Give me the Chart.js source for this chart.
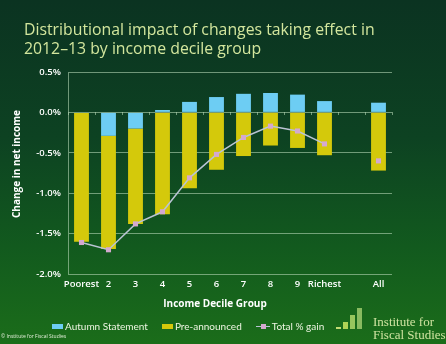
<!DOCTYPE html>
<html>
<head>
<meta charset="utf-8">
<script src="https://cdn.jsdelivr.net/npm/chart.js@4.4.1/dist/chart.umd.min.js"></script>
<style>
  html, body { margin: 0; padding: 0; }
  body {
    position: relative;
    width: 446px;
    height: 344px;
    overflow: hidden;
    background: linear-gradient(to bottom, #0b3321 0%, #0d4222 40%, #125a1e 72%, #1b6d1a 100%);
    font-family: "Open Sans", sans-serif;
  }
  #chart { position: absolute; left: 0; top: 0; }
  .title {
    position: absolute; left: 24px; top: 20px;
    color: #d3e69d; font-size: 15.8px; line-height: 19px; white-space: nowrap;
  }
  .axis-title {
    position: absolute; color: #ffffff; font-weight: 700; font-size: 10px;
    line-height: 12px; text-align: center; white-space: nowrap;
  }
  #y-title { left: -44px; top: 158px; width: 120px; transform: rotate(-90deg); }
  #x-title { left: 155px; top: 297px; width: 120px; }
  #legend {
    position: absolute; left: 52px; top: 319px; height: 14px;
    display: flex; align-items: center; color: #eef6e2;
    font-family: Lato, sans-serif; font-size: 10px;
  }
  .item { display: flex; align-items: center; margin-right: 14px; white-space: nowrap; }
  .swatch { width: 11px; height: 5px; margin-right: 2px; }
  .line-key { position: relative; width: 14px; height: 5px; margin-right: 2px; }
  .line-key .stroke { position: absolute; left: 0; right: 0; top: 2px; height: 1.5px; }
  .line-key .dot { position: absolute; left: 5px; top: 0; width: 5px; height: 5px; }
  .logo-bar { position: absolute; bottom: 15px; width: 5px; }
  .ifs {
    position: absolute; left: 373px; top: 315px; color: #cfe3a0; white-space: nowrap;
    font-family: "Liberation Serif", serif; font-size: 13px; line-height: 13px;
  }
  .copy {
    position: absolute; left: 1px; top: 333px; color: #e6f0dc;
    font-size: 5px; line-height: 6px; white-space: nowrap;
  }
</style>
</head>
<body>
<canvas id="chart" width="446" height="344"></canvas>
<div class="title">Distributional impact of changes taking effect in<br>2012–13 by income decile group</div>
<div class="axis-title" id="y-title">Change in net income</div>
<div class="axis-title" id="x-title">Income Decile Group</div>
<div id="legend"></div>
<div class="logo-bar" style="left:336px;height:2px;background:#c2dc74"></div>
<div class="logo-bar" style="left:343px;height:7px;background:#afd256"></div>
<div class="logo-bar" style="left:350px;height:14px;background:#98c65e"></div>
<div class="logo-bar" style="left:357px;height:21px;background:#89bb60"></div>
<div class="ifs">Institute for<br>Fiscal Studies</div>
<div class="copy">© Institute for Fiscal Studies</div>
<script>
// income deciles, with an empty slot before the all-households column
const decileLabels = ['Poorest', '2', '3', '4', '5', '6', '7', '8', '9', 'Richest', '', 'All'];
const autumnStatement = [0.00, -0.29, -0.20, 0.03, 0.13, 0.19, 0.23, 0.24, 0.22, 0.14, null, 0.12];
const preAnnounced = [-1.60, -1.40, -1.18, -1.26, -0.94, -0.71, -0.54, -0.41, -0.44, -0.53, null, -0.72];
const totalGain = [-1.61, -1.70, -1.38, -1.23, -0.81, -0.52, -0.31, -0.17, -0.23, -0.39, null, -0.60];
const yTicks = [-2.0, -1.5, -1.0, -0.5, 0.0, 0.5];

const gridColour = 'rgba(180, 214, 180, 0.6)';
const tickFont = { family: '"Open Sans", sans-serif', size: 9.5, weight: '600' };

const chart = new Chart(document.getElementById('chart'), {
  type: 'bar',
  data: {
    labels: decileLabels,
    datasets: [
      {
        label: 'Autumn Statement',
        data: autumnStatement,
        backgroundColor: '#6dcdf3',
        order: 1,
        barPercentage: 0.55,
        categoryPercentage: 1
      },
      {
        label: 'Pre-announced',
        data: preAnnounced,
        backgroundColor: '#d4c90b',
        order: 1,
        barPercentage: 0.55,
        categoryPercentage: 1
      },
      {
        type: 'line',
        label: 'Total % gain',
        data: totalGain,
        stack: 'total',
        order: 0,
        borderColor: '#bac4d4',
        borderWidth: 1.5,
        pointStyle: 'rect',
        pointRadius: 3.6,
        pointBackgroundColor: '#d4a9cf',
        pointBorderWidth: 0,
        spanGaps: false
      }
    ]
  },
  options: {
    responsive: false,
    animation: false,
    devicePixelRatio: 1,
    layout: { padding: { top: 72, right: 54, bottom: 50, left: 0 } },
    plugins: {
      legend: { display: false },
      tooltip: { enabled: false }
    },
    scales: {
      x: {
        stacked: true,
        offset: true,
        grid: { display: false, drawTicks: false },
        border: { display: false },
        ticks: { color: '#ffffff', font: tickFont, padding: 5, maxRotation: 0, autoSkip: false },
        afterFit: (scale) => { scale.height = 20; }
      },
      zero: {
        type: 'category',
        axis: 'x',
        labels: decileLabels,
        position: { y: 0 },
        offset: true,
        grid: { offset: true, drawOnChartArea: false, tickLength: 3, color: gridColour },
        border: { display: false },
        ticks: { display: false }
      },
      y: {
        stacked: true,
        min: -2,
        max: 0.5,
        afterBuildTicks: (scale) => { scale.ticks = yTicks.map(v => ({ value: v })); },
        grid: { color: gridColour, drawTicks: false },
        border: { display: true, color: gridColour },
        ticks: {
          color: '#ffffff',
          font: tickFont,
          padding: 7,
          callback: (v) => v.toFixed(1) + '%'
        },
        afterFit: (scale) => { scale.width = 68; }
      }
    }
  }
});

// legend built from the chart's own datasets
const legend = document.getElementById('legend');
chart.data.datasets.forEach((ds) => {
  const item = document.createElement('div');
  item.className = 'item';
  if (ds.type === 'line') {
    item.innerHTML = '<span class="line-key"><span class="stroke" style="background:' + ds.borderColor +
      '"></span><span class="dot" style="background:' + ds.pointBackgroundColor + '"></span></span>';
  } else {
    item.innerHTML = '<span class="swatch" style="background:' + ds.backgroundColor + '"></span>';
  }
  item.appendChild(document.createTextNode(ds.label));
  legend.appendChild(item);
});
</script>
</body>
</html>
